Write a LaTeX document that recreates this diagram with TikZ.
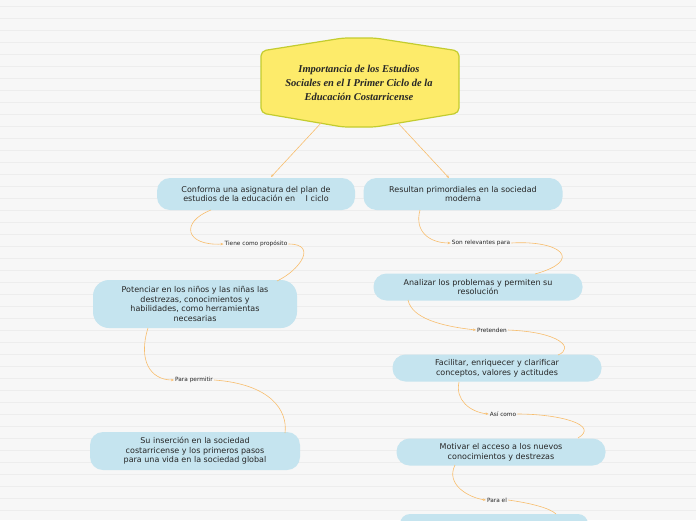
\documentclass[tikz,border=0pt]{standalone}
\usepackage{fontspec}
\setmainfont{DejaVu Sans}
\newfontfamily\titlefont{Liberation Serif}
\usetikzlibrary{arrows.meta}
\definecolor{bg}{HTML}{F7F7F7}
\definecolor{bline}{HTML}{EDEDED}
\definecolor{boxc}{HTML}{C5E4EF}
\definecolor{conn}{HTML}{F7BE6E}
\definecolor{ttl}{HTML}{FDEB6A}
\definecolor{ttlb}{HTML}{C3CC2E}
\tikzset{
 box/.style={fill=boxc,rounded corners=13pt,align=center,font=\fontsize{8}{9.6}\selectfont,text=black!85,inner sep=0pt},
 lbl/.style={font=\fontsize{5.8}{7}\selectfont,text=black!85,inner sep=1pt},
 con/.style={draw=conn,line width=0.6pt},
 arr/.style={con,-{Stealth[length=3pt,width=2.5pt]}}
}
\begin{document}
\begin{tikzpicture}[x=1pt,y=-1pt]
\fill[bg] (0,0) rectangle (696,520);
\useasboundingbox (0,0) rectangle (696,520);
\foreach \y in {6,18,...,520} \draw[bline,line width=0.4pt] (0,\y) -- (696,\y);
% title
\draw[fill=ttl,draw=ttlb,line width=1.2pt,rounded corners=5pt] (261,51) -- (343,38) -- (375,38) -- (459,51) -- (459,113) -- (375,127) -- (343,127) -- (261,113) -- cycle;
\node[align=center,font=\titlefont\bfseries\itshape\fontsize{10.5}{14}\selectfont,text=black!85] (t) at (359,83) {Importancia de los Estudios\\Sociales en el I Primer Ciclo de la\\Educación Costarricense};
% boxes
\node[box,minimum width=198pt,minimum height=32pt] (A) at (256,194) {Conforma una asignatura del plan de\\estudios de la educación en \quad I ciclo};
\node[box,minimum width=199pt,minimum height=32pt] (B) at (463,194) {Resultan primordiales en la sociedad\\moderna};
\node[box,minimum width=204pt,minimum height=48pt,rounded corners=16pt] (C) at (195,304) {Potenciar en los niños y las niñas las\\destrezas, conocimientos y\\habilidades, como herramientas\\necesarias};
\node[box,minimum width=210pt,minimum height=38pt] (D) at (195,451) {Su inserción en la sociedad\\costarricense y los primeros pasos\\para una vida en la sociedad global};
\node[box,minimum width=209pt,minimum height=27pt] (E) at (478,287) {Analizar los problemas y permiten su\\resolución};
\node[box,minimum width=209pt,minimum height=27pt] (F) at (497,368) {Facilitar, enriquecer y clarificar\\conceptos, valores y actitudes};
\node[box,minimum width=209pt,minimum height=27pt] (G) at (501,452) {Motivar el acceso a los nuevos\\conocimientos y destrezas};
\fill[boxc,rounded corners=10pt] (400,514) rectangle (588,540);
\coordinate (H) at (556,514);
% labels
\node[lbl] (l1) at (256,244) {Tiene como propósito};
\node[lbl] (l2) at (194,380) {Para permitir};
\node[lbl] (l3) at (481,243) {Son relevantes para};
\node[lbl] (l4) at (492,330) {Pretenden};
\node[lbl] (l5) at (503,414) {Así como};
\node[lbl] (l6) at (497,500) {Para el};
% connectors
\draw[arr] (322,122) -- (271,177);
\draw[arr] (398,123) -- (449,178);
\draw[arr] (211,210) .. controls (180,222) and (185,246) .. (l1.west);
\draw[con] (l1.east) .. controls (318,244) and (300,270) .. (277,281);
\draw[arr] (148,328) .. controls (138,360) and (150,380) .. (l2.west);
\draw[con] (l2.east) .. controls (270,384) and (288,410) .. (285,433);
\draw[arr] (420,210) .. controls (414,232) and (430,243) .. (l3.west);
\draw[con] (l3.east) .. controls (560,240) and (585,260) .. (535,274);
\draw[arr] (408,300) .. controls (412,318) and (440,326) .. (l4.west);
\draw[con] (l4.east) .. controls (560,332) and (575,348) .. (558,355);
\draw[arr] (459,382) .. controls (455,400) and (470,412) .. (l5.west);
\draw[con] (l5.east) .. controls (560,414) and (600,425) .. (578,438);
\draw[arr] (455,465) .. controls (445,485) and (470,498) .. (l6.west);
\draw[con] (l6.east) .. controls (530,503) and (550,508) .. (H);
\end{tikzpicture}
\end{document}
